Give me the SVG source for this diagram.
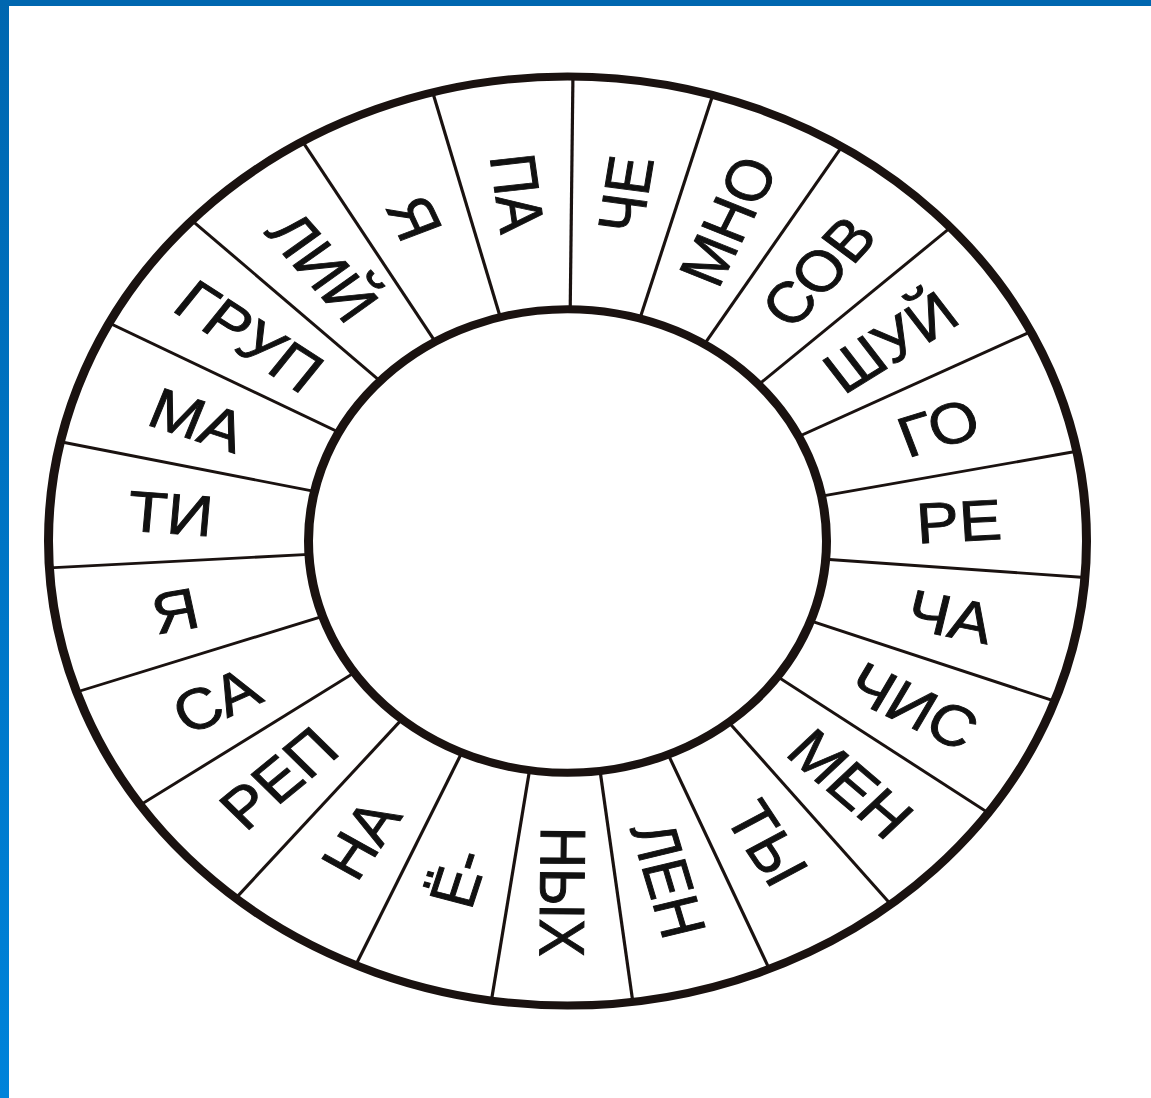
<svg xmlns="http://www.w3.org/2000/svg" width="1151" height="1098" viewBox="0 0 1151 1098">
  <defs>
    <linearGradient id="sideBar" x1="0" y1="0" x2="0" y2="1">
      <stop offset="0" stop-color="#0067b0"/>
      <stop offset="1" stop-color="#0083da"/>
    </linearGradient>
  </defs>
  <style>
    .ring { fill: none; stroke: #1a1210; stroke-width: 9; }
    .div { stroke: #1a1210; stroke-width: 3.2; }
    .lbl { font-family: "Liberation Sans", Arial, sans-serif; font-size: 64px; fill: #111; stroke: #111; stroke-width: 1; text-anchor: middle; }
  </style>
  <rect x="0" y="0" width="1151" height="1098" fill="#ffffff"/>
  <rect id="top-bar" x="0" y="0" width="1151" height="6" fill="#0067b0"/>
  <rect id="left-bar" x="0" y="0" width="9" height="1098" fill="url(#sideBar)"/>

  <g id="wheel" transform="translate(567.5,541) scale(1,0.895)">
    <g id="rings">
      <circle id="outer-ring" class="ring" cx="0" cy="0" r="519"/>
      <circle id="inner-ring" class="ring" cx="0" cy="0" r="259"/>
    </g>
    <g id="connectors">
      <line class="div" x1="0" y1="-259" x2="0" y2="-519" transform="rotate(0.6)"/>
      <line class="div" x1="0" y1="-259" x2="0" y2="-519" transform="rotate(16.25)"/>
      <line class="div" x1="0" y1="-259" x2="0" y2="-519" transform="rotate(31.9)"/>
      <line class="div" x1="0" y1="-259" x2="0" y2="-519" transform="rotate(47.56)"/>
      <line class="div" x1="0" y1="-259" x2="0" y2="-519" transform="rotate(63.21)"/>
      <line class="div" x1="0" y1="-259" x2="0" y2="-519" transform="rotate(78.86)"/>
      <line class="div" x1="0" y1="-259" x2="0" y2="-519" transform="rotate(94.51)"/>
      <line class="div" x1="0" y1="-259" x2="0" y2="-519" transform="rotate(110.17)"/>
      <line class="div" x1="0" y1="-259" x2="0" y2="-519" transform="rotate(125.82)"/>
      <line class="div" x1="0" y1="-259" x2="0" y2="-519" transform="rotate(141.47)"/>
      <line class="div" x1="0" y1="-259" x2="0" y2="-519" transform="rotate(157.12)"/>
      <line class="div" x1="0" y1="-259" x2="0" y2="-519" transform="rotate(172.77)"/>
      <line class="div" x1="0" y1="-259" x2="0" y2="-519" transform="rotate(188.43)"/>
      <line class="div" x1="0" y1="-259" x2="0" y2="-519" transform="rotate(204.08)"/>
      <line class="div" x1="0" y1="-259" x2="0" y2="-519" transform="rotate(219.73)"/>
      <line class="div" x1="0" y1="-259" x2="0" y2="-519" transform="rotate(235.38)"/>
      <line class="div" x1="0" y1="-259" x2="0" y2="-519" transform="rotate(251.03)"/>
      <line class="div" x1="0" y1="-259" x2="0" y2="-519" transform="rotate(266.69)"/>
      <line class="div" x1="0" y1="-259" x2="0" y2="-519" transform="rotate(282.34)"/>
      <line class="div" x1="0" y1="-259" x2="0" y2="-519" transform="rotate(297.99)"/>
      <line class="div" x1="0" y1="-259" x2="0" y2="-519" transform="rotate(313.64)"/>
      <line class="div" x1="0" y1="-259" x2="0" y2="-519" transform="rotate(329.30)"/>
      <line class="div" x1="0" y1="-259" x2="0" y2="-519" transform="rotate(344.95)"/>
    </g>
    <g id="seg-che" transform="rotate(8.43) translate(0,-392) rotate(-90)"><text class="lbl" dy="0.36em">ЧЕ</text></g>
    <g id="seg-mno" transform="rotate(24.08) translate(0,-392) rotate(-90)"><text class="lbl" dy="0.36em">МНО</text></g>
    <g id="seg-sov" transform="rotate(39.73) translate(0,-392) rotate(-90)"><text class="lbl" dy="0.36em">СОВ</text></g>
    <g id="seg-shuy" transform="rotate(55.38) translate(0,-392) rotate(-90)"><text class="lbl" dy="0.36em">ШУЙ</text></g>
    <g id="seg-go" transform="rotate(71.04) translate(0,-392) rotate(-90)"><text class="lbl" dy="0.36em">ГО</text></g>
    <g id="seg-re" transform="rotate(86.69) translate(0,-392) rotate(-90)"><text class="lbl" dy="0.36em">РЕ</text></g>
    <g id="seg-cha" transform="rotate(102.34) translate(0,-392) rotate(-90)"><text class="lbl" dy="0.36em">ЧА</text></g>
    <g id="seg-chis" transform="rotate(117.99) translate(0,-392) rotate(-90)"><text class="lbl" dy="0.36em">ЧИС</text></g>
    <g id="seg-men" transform="rotate(133.64) translate(0,-392) rotate(-90)"><text class="lbl" dy="0.36em">МЕН</text></g>
    <g id="seg-ty" transform="rotate(149.30) translate(0,-392) rotate(-90)"><text class="lbl" dy="0.36em">ТЫ</text></g>
    <g id="seg-len" transform="rotate(164.95) translate(0,-392) rotate(-90)"><text class="lbl" dy="0.36em">ЛЕН</text></g>
    <g id="seg-nyh" transform="rotate(180.60) translate(0,-392) rotate(-90)"><text class="lbl" dy="0.36em">НЫХ</text></g>
    <g id="seg-yo" transform="rotate(196.25) translate(0,-392) rotate(90)"><text class="lbl" dy="0.36em">Ё-</text></g>
    <g id="seg-na" transform="rotate(211.90) translate(0,-392) rotate(90)"><text class="lbl" dy="0.36em">НА</text></g>
    <g id="seg-rep" transform="rotate(227.56) translate(0,-392) rotate(90)"><text class="lbl" dy="0.36em">РЕП</text></g>
    <g id="seg-sa" transform="rotate(243.21) translate(0,-394) rotate(90)"><text class="lbl" dy="0.36em">СА</text></g>
    <g id="seg-ya1" transform="rotate(258.86) translate(0,-400) rotate(90)"><text class="lbl" dy="0.36em">Я</text></g>
    <g id="seg-ti" transform="rotate(274.51) translate(0,-398) rotate(90)"><text class="lbl" dy="0.36em">ТИ</text></g>
    <g id="seg-ma" transform="rotate(290.17) translate(0,-394) rotate(90)"><text class="lbl" dy="0.36em">МА</text></g>
    <g id="seg-grup" transform="rotate(305.82) translate(0,-392) rotate(90)"><text class="lbl" dy="0.36em">ГРУП</text></g>
    <g id="seg-liy" transform="rotate(321.47) translate(0,-392) rotate(90)"><text class="lbl" dy="0.36em">ЛИЙ</text></g>
    <g id="seg-ya2" transform="rotate(337.12) translate(0,-392) rotate(90)"><text class="lbl" dy="0.36em">Я</text></g>
    <g id="seg-pa" transform="rotate(352.78) translate(0,-392) rotate(90)"><text class="lbl" dy="0.36em">ПА</text></g>
  </g>
</svg>
